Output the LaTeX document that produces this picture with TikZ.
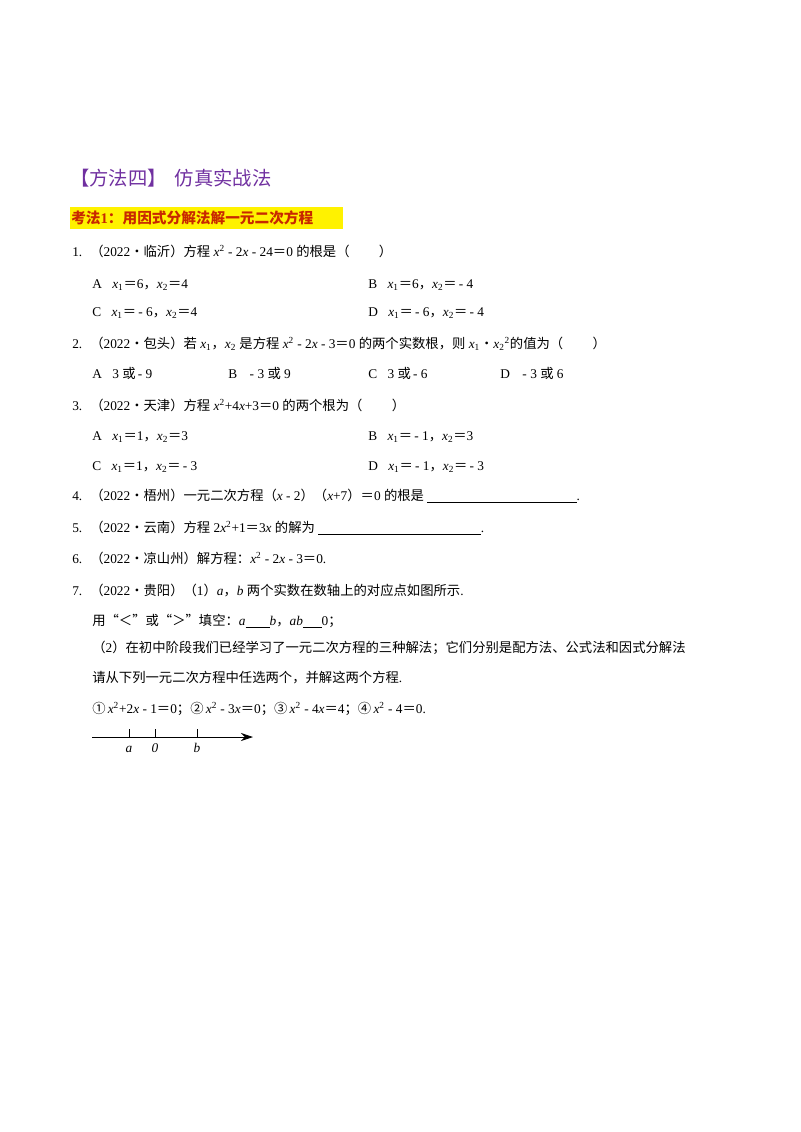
\documentclass[tikz,border=0pt]{standalone}
\usepackage{fontspec}
\usetikzlibrary{arrows.meta}
\setmainfont{Liberation Serif}
\newfontfamily\cjk{Noto Sans CJK SC}
\newcommand{\zh}[1]{{\cjk #1}}
\newcommand{\X}{\textit{x}}
\newcommand{\sq}{\textsuperscript{2}}
\newcommand{\sub}[1]{\textsubscript{#1}}
\newcommand{\blank}[1]{\underline{\hspace{#1}}}
\definecolor{purp}{RGB}{112,48,160}
\definecolor{kred}{RGB}{200,40,0}
\begin{document}
\begin{tikzpicture}[x=0.75pt,y=-0.75pt,
  t/.style={anchor=base west,inner sep=0pt,font=\fontsize{10}{12}\selectfont}]
\useasboundingbox (0,0) rectangle (800,1132);
\node[t,font=\fontsize{14.5}{16}\selectfont,text=purp] (title) at (70,185) {\zh{【方法四】\hspace{6pt}仿真实战法}};
\fill[yellow] (70,207) rectangle (343,229);
\node[t,font=\fontsize{11}{13}\selectfont\bfseries,text=kred] (kf) at (71,223) {\zh{考法}1\zh{：用因式分解法解一元二次方程}};
\node[t] (q1) at (72,256) {1.\hspace{6pt}\zh{（}2022\zh{•临沂）方程} \X\sq\ - 2\X\ - 24\zh{＝}0 \zh{的根是（\hspace{2.2em}）}};
\node[t] (q1a) at (92,288) {A．\X\sub{1}\zh{＝}6\zh{，}\X\sub{2}\zh{＝}4};
\node[t] (q1b) at (368,288) {B．\X\sub{1}\zh{＝}6\zh{，}\X\sub{2}\zh{＝}\,- 4};
\node[t] (q1c) at (92,316) {C．\X\sub{1}\zh{＝}\,- 6\zh{，}\X\sub{2}\zh{＝}4};
\node[t] (q1d) at (368,316) {D．\X\sub{1}\zh{＝}\,- 6\zh{，}\X\sub{2}\zh{＝}\,- 4};
\node[t] (q2) at (72,348) {2.\hspace{6pt}\zh{（}2022\zh{•包头）若} \X\sub{1}\zh{，}\X\sub{2} \zh{是方程} \X\sq\ - 2\X\ - 3\zh{＝}0 \zh{的两个实数根，则} \X\sub{1}\zh{•}\X\sub{2}\sq \zh{的值为（\hspace{2.2em}）}};
\node[t] (q2a) at (92,378) {A．3 \zh{或}\,- 9};
\node[t] (q2b) at (228,378) {B．\,- 3 \zh{或} 9};
\node[t] (q2c) at (368,378) {C．3 \zh{或}\,- 6};
\node[t] (q2d) at (500,378) {D．\,- 3 \zh{或} 6};
\node[t] (q3) at (72,410) {3.\hspace{6pt}\zh{（}2022\zh{•天津）方程} \X\sq+4\X+3\zh{＝}0 \zh{的两个根为（\hspace{2.2em}）}};
\node[t] (q3a) at (92,440) {A．\X\sub{1}\zh{＝}1\zh{，}\X\sub{2}\zh{＝}3};
\node[t] (q3b) at (368,440) {B．\X\sub{1}\zh{＝}\,- 1\zh{，}\X\sub{2}\zh{＝}3};
\node[t] (q3c) at (92,470) {C．\X\sub{1}\zh{＝}1\zh{，}\X\sub{2}\zh{＝}\,- 3};
\node[t] (q3d) at (368,470) {D．\X\sub{1}\zh{＝}\,- 1\zh{，}\X\sub{2}\zh{＝}\,- 3};
\node[t] (q4) at (72,500) {4.\hspace{6pt}\zh{（}2022\zh{•梧州）一元二次方程（}\X\ - 2\zh{）（}\X+7\zh{）＝}0 \zh{的根是} \blank{112pt}.};
\node[t] (q5) at (72,532) {5.\hspace{6pt}\zh{（}2022\zh{•云南）方程} 2\X\sq+1\zh{＝}3\X\ \zh{的解为} \blank{122pt}.};
\node[t] (q6) at (72,563) {6.\hspace{6pt}\zh{（}2022\zh{•凉山州）解方程：}\X\sq\ - 2\X\ - 3\zh{＝}0.};
\node[t] (q7) at (72,595) {7.\hspace{6pt}\zh{（}2022\zh{•贵阳）（}1\zh{）}\textit{a}\zh{，}\textit{b} \zh{两个实数在数轴上的对应点如图所示}.};
\node[t] (q7a) at (92,625) {\zh{用“＜”或“＞”填空：}\textit{a}\blank{18pt}\textit{b}\zh{，}\textit{ab}\blank{14pt}0\zh{；}};
\node[t] (q7b) at (92,652) {\zh{（}2\zh{）在初中阶段我们已经学习了一元二次方程的三种解法；它们分别是配方法、公式法和因式分解法}};
\node[t] (q7c) at (92,682) {\zh{请从下列一元二次方程中任选两个，并解这两个方程}.};
\node[t] (q7d) at (92,713) {\zh{①}\,\X\sq+2\X\ - 1\zh{＝}0\zh{；②}\,\X\sq\ - 3\X\zh{＝}0\zh{；③}\,\X\sq\ - 4\X\zh{＝}4\zh{；④}\,\X\sq\ - 4\zh{＝}0.};
\coordinate (l0) at (92,737);
\coordinate (l1) at (253,737);
\draw[-{Stealth[length=9pt,width=6pt]},line width=0.6pt] (l0) -- (l1);
\foreach \p/\n/\l in {129/ta/a,155/t0/0,197/tb/b}{
  \draw[line width=0.6pt] (\p,737) -- (\p,729);
  \node[t,anchor=base] (\n) at (\p,752) {\textit{\l}};
}
\end{tikzpicture}
\end{document}
